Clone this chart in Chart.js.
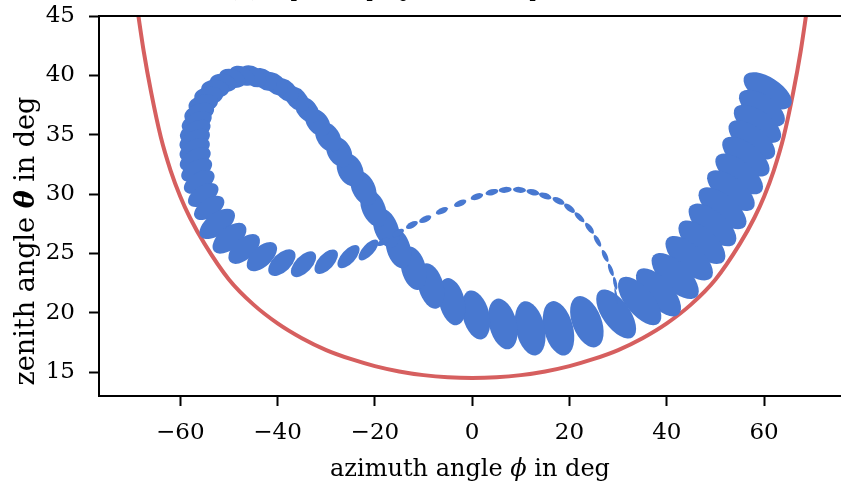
<!DOCTYPE html>
<html lang="en">
<head>
    <meta charset="UTF-8">
    <title>Zenith vs azimuth</title>
    <script src="https://cdn.jsdelivr.net/npm/chart.js"></script>
    <style>
        body { margin: 0; background: #fff; }
        canvas { display: block; }
    </style>
</head>
<body>
<canvas id="chart_angles" width="841" height="483"></canvas>

<script>
    // boundary curve (red)
    const boundaryPhi   = [-70, -68.6, -67.5, -66, -64, -62, -60, -58, -55, -50, -45, -40, -35, -30, -25, -20, -15, -10, -5, 0,
                           5, 10, 15, 20, 25, 30, 35, 40, 45, 50, 55, 58, 60, 62, 64, 66, 67.5, 68.6, 70];
    const boundaryTheta = [49.0, 45.0, 42.0, 38.6, 34.8, 32.0, 29.8, 28.0, 25.8, 22.8, 20.7, 19.1, 17.85, 16.85, 16.1, 15.5, 15.05, 14.74, 14.56, 14.5,
                           14.56, 14.74, 15.05, 15.5, 16.1, 16.85, 17.85, 19.1, 20.7, 22.8, 25.8, 28.0, 29.8, 32.0, 34.8, 38.6, 42.0, 45.0, 49.0];

    // ellipses along the path: centre (deg), end of the long half axis relative to the centre (deg),
    // and short/long axis ratio
    const ellPhi = [60.73, 59.54, 58.63, 57.48, 56.25, 54.87, 53.17, 51.44, 49.38, 47.21, 44.60, 41.72, 38.29, 34.42, 29.59,
                    23.57, 17.74, 11.92, 6.31, 0.76, -4.17, -8.49, -12.06, -15.15, -17.67, -20.28, -22.34,
                    -25.07, -27.33, -29.59, -31.75, -33.91, -36.03, -38.22, -40.48, -42.74, -45.0, -47.27, -49.32, -51.17,
                    -52.82, -54.15, -55.28, -56.10, -56.62, -56.92, -57.03, -57.03, -56.92, -56.62, -56.10, -55.28, -54.05,
                    -52.40, -49.88, -46.86, -43.22, -39.11, -34.67, -30.0, -25.42, -21.31,
                    -18.29, -15.21, -12.39, -9.66, -6.23, -2.47, 0.97, 4.05, 6.78, 9.72, 12.47, 15.0, 17.74, 20.0,
                    22.05, 24.11, 25.75, 27.33, 28.50, 29.39, 29.59];
    const ellTheta = [38.70, 37.23, 35.91, 34.56, 33.15, 31.69, 30.29, 28.80, 27.39, 25.94, 24.59, 23.09, 21.72, 20.99, 19.89,
                      19.24, 18.68, 18.68, 19.05, 19.81, 20.93, 22.25, 23.74, 25.43, 27.12, 28.80, 30.49,
                      32.03, 33.55, 34.81, 36.04, 37.09, 38.02, 38.74, 39.28, 39.66, 39.92, 39.96, 39.75, 39.37,
                      38.86, 38.27, 37.60, 36.84, 36.08, 35.32, 34.56, 33.76, 32.96, 32.03, 31.02, 29.92, 28.83,
                      27.48, 26.27, 25.37, 24.72, 24.22, 24.08, 24.30, 24.72, 25.29,
                      25.96, 26.72, 27.39, 27.88, 28.58, 29.22, 29.78, 30.15, 30.35, 30.35, 30.15, 29.84, 29.42, 28.80,
                      28.04, 27.12, 26.05, 24.78, 23.60, 22.48, 21.41];
    const ellDPhi = [4.740, 4.477, 4.623, 4.513, 4.595, 4.615, 4.615, 4.631, 4.565, 4.464, 4.505, 4.434, 4.125, 3.897, 3.401,
                     2.025, 1.485, 1.281, 1.288, 1.292, 1.111, 1.234, 1.100, 1.162, 1.511, 1.561, 1.594,
                     1.505, 1.673, 1.822, 1.927, 1.941, 2.060, 2.060, 2.165, 2.295, 2.443, 2.472, 2.607, 2.714,
                     2.873, 2.963, 2.991, 2.993, 2.980, 3.021, 2.994, 2.966, 3.025, 3.025, 2.995, 2.963, 2.930,
                     3.402, 3.180, 2.910, 2.776, 2.470, 2.263, 2.098, 2.014, 1.846,
                     1.162, 1.150, 1.191, 1.211, 1.215, 1.239, 1.263, 1.300, 1.331, 1.331, 1.301, 1.265, 1.192, 1.056,
                     0.945, 0.808, 0.658, 0.560, 0.459, 0.266, 0.285];
    const ellDTheta = [-1.263, -1.272, -1.333, -1.395, -1.421, -1.480, -1.480, -1.539, -1.572, -1.620, -1.664, -1.757, -1.880, -1.905, -1.956,
                       -2.120, -2.273, -2.276, -2.121, -2.050, -1.974, -1.891, -1.811, -1.663, -1.616, -1.509, -1.403,
                       -1.324, -1.189, -1.151, -1.011, -0.949, -0.906, -0.845, -0.800, -0.736, -0.651, -0.517, -0.389, -0.237,
                       -0.062, 0.128, 0.306, 0.447, 0.570, 0.632, 0.653, 0.675, 0.717, 0.717, 0.738, 0.760, 0.781,
                       1.055, 1.100, 1.080, 1.070, 0.986, 0.969, 0.929, 0.893, 0.819,
                       0.270, 0.279, 0.248, 0.232, 0.228, 0.205, 0.178, 0.126, 0.046, -0.045, -0.124, -0.177, -0.247, -0.336,
                       -0.388, -0.437, -0.477, -0.498, -0.515, -0.537, -0.664];
    const ellRatio = [0.48, 0.49, 0.48, 0.48, 0.47, 0.46, 0.46, 0.455, 0.47, 0.47, 0.465, 0.46, 0.46, 0.465, 0.48,
                      0.54, 0.52, 0.52, 0.53, 0.53, 0.53, 0.54, 0.55, 0.58, 0.58, 0.60, 0.63,
                      0.72, 0.72, 0.70, 0.70, 0.68, 0.66, 0.66, 0.66, 0.66, 0.66, 0.66, 0.66, 0.66,
                      0.65, 0.63, 0.61, 0.59, 0.57, 0.56, 0.56, 0.56, 0.55, 0.55, 0.55, 0.55, 0.55,
                      0.52, 0.53, 0.54, 0.54, 0.55, 0.53, 0.52, 0.48, 0.43,
                      0.46, 0.46, 0.46, 0.46, 0.46, 0.46, 0.46, 0.46, 0.46, 0.46, 0.46, 0.46, 0.46, 0.46,
                      0.40, 0.40, 0.36, 0.36, 0.32, 0.28, 0.14];

    const xTickValues = [-60, -40, -20, 0, 20, 40, 60];
    const yTickValues = [15, 20, 25, 30, 35, 40, 45];

    const RED = '#d65f5f';
    const BLUE = '#4878d0';
    const SERIF = "'DejaVu Serif', 'Liberation Serif', serif";

    // LaTeX style minus sign on tick labels
    function tickLabel(v) {
        return v < 0 ? '\u2212' + Math.abs(v) : String(v);
    }

    // draw the ellipses: centre and axis end go through the scales
    const ellipsePlugin = {
        id: 'ellipses',
        afterDatasetsDraw(chart) {
            const { ctx, chartArea: area, scales: { x, y } } = chart;
            ctx.save();
            ctx.beginPath();
            ctx.rect(area.left, area.top, area.right - area.left, area.bottom - area.top);
            ctx.clip();
            ctx.fillStyle = BLUE;
            ellPhi.forEach((phi, i) => {
                const cx = x.getPixelForValue(phi);
                const cy = y.getPixelForValue(ellTheta[i]);
                const tx = x.getPixelForValue(phi + ellDPhi[i]);
                const ty = y.getPixelForValue(ellTheta[i] + ellDTheta[i]);
                const major = Math.hypot(tx - cx, ty - cy);
                ctx.beginPath();
                ctx.ellipse(cx, cy, major, major * ellRatio[i], Math.atan2(ty - cy, tx - cx), 0, 2 * Math.PI);
                ctx.fill();
            });
            ctx.restore();
        }
    };

    // text made of pieces with different fonts (for the italic greek letters)
    function partsWidth(ctx, parts) {
        return parts.reduce((w, [text, font]) => { ctx.font = font; return w + ctx.measureText(text).width; }, 0);
    }
    function drawParts(ctx, parts, x, y) {
        let pos = x;
        parts.forEach(([text, font]) => {
            ctx.font = font;
            ctx.fillText(text, pos, y);
            pos += ctx.measureText(text).width;
        });
    }

    // top spine, axis titles and the cut-off panel title
    const framePlugin = {
        id: 'frame',
        afterDraw(chart) {
            const { ctx, chartArea: area } = chart;
            ctx.save();
            ctx.strokeStyle = '#000';
            ctx.lineWidth = 2;
            ctx.beginPath();
            ctx.moveTo(area.left - 1, area.top);
            ctx.lineTo(area.right, area.top);
            ctx.stroke();

            ctx.fillStyle = '#000';
            ctx.textAlign = 'left';
            ctx.textBaseline = 'alphabetic';

            const xParts = [['azimuth angle ', '24px ' + SERIF], ['\u03d5', 'italic 24px ' + SERIF], [' in deg', '24px ' + SERIF]];
            const xw = partsWidth(ctx, xParts);
            drawParts(ctx, xParts, (area.left + area.right) / 2 - xw / 2, 476);

            const yParts = [['zenith angle ', '27px ' + SERIF], ['\u03b8', 'italic bold 27px ' + SERIF], [' in deg', '27px ' + SERIF]];
            const yw = partsWidth(ctx, yParts);
            ctx.save();
            ctx.translate(34, 241);
            ctx.rotate(-Math.PI / 2);
            drawParts(ctx, yParts, -yw / 2, 0);
            ctx.restore();

            ctx.font = '21px ' + SERIF;
            ctx.fillText('(b) Top view projection, full path', 229, -3);
            ctx.restore();
        }
    };

    const chartAngles = new Chart(document.getElementById('chart_angles').getContext('2d'), {
        type: 'scatter',
        data: {
            datasets: [
                {
                    type: 'line',
                    label: 'boundary',
                    data: boundaryPhi.map((p, i) => ({ x: p, y: boundaryTheta[i] })),
                    borderColor: RED,
                    borderWidth: 4,
                    pointRadius: 0,
                    fill: false,
                    cubicInterpolationMode: 'monotone',
                    clip: 0
                },
                {
                    label: 'path',
                    data: ellPhi.map((p, i) => ({ x: p, y: ellTheta[i] })),
                    pointRadius: 0,
                    showLine: false
                }
            ]
        },
        options: {
            responsive: false,
            animation: false,
            devicePixelRatio: 1,
            layout: { padding: { top: 16, right: 0, bottom: 0, left: 0 } },
            plugins: { legend: { display: false }, tooltip: { enabled: false } },
            scales: {
                x: {
                    type: 'linear',
                    min: -76.7,
                    max: 75.8,
                    afterBuildTicks: scale => { scale.ticks = xTickValues.map(v => ({ value: v })); },
                    afterFit: scale => { scale.height = 87; scale.paddingLeft = 0; scale.paddingRight = 0; },
                    grid: { drawOnChartArea: false, drawTicks: true, tickLength: 10, tickWidth: 2, tickColor: '#000' },
                    border: { display: true, color: '#000', width: 2 },
                    ticks: { color: '#000', padding: 13, maxRotation: 0, font: { family: SERIF, size: 23 }, callback: v => tickLabel(v) }
                },
                y: {
                    type: 'linear',
                    min: 12.98,
                    max: 45,
                    afterBuildTicks: scale => { scale.ticks = yTickValues.map(v => ({ value: v })); },
                    afterFit: scale => { scale.width = 99; scale.paddingTop = 0; scale.paddingBottom = 0; },
                    grid: { drawOnChartArea: false, drawTicks: true, tickLength: 10, tickWidth: 2, tickColor: '#000' },
                    border: { display: true, color: '#000', width: 2 },
                    ticks: { color: '#000', padding: 14, font: { family: SERIF, size: 23 }, callback: v => tickLabel(v) }
                }
            }
        },
        plugins: [ellipsePlugin, framePlugin]
    });
</script>
</body>
</html>
